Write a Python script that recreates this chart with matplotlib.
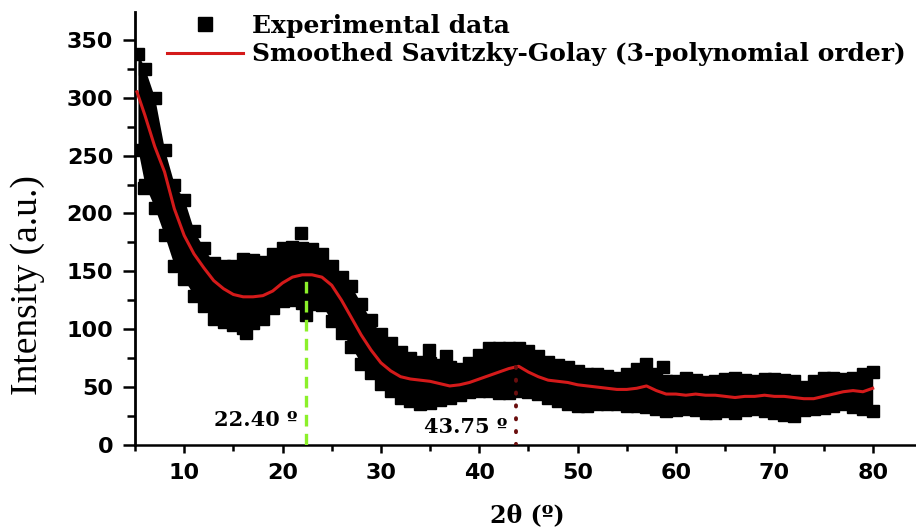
import numpy as np
import matplotlib
matplotlib.use("Agg")
import matplotlib.pyplot as plt
from matplotlib.ticker import MultipleLocator
from matplotlib.font_manager import FontProperties

two_theta = [5.3, 6, 7, 8, 9, 10, 11, 12, 13, 14, 15, 16, 17, 18, 19, 20,
             21, 22, 23, 24, 25, 26, 27, 28, 29, 30, 31, 32, 33, 34, 35, 36,
             37, 38, 39, 40, 41, 42, 43, 44, 45, 46, 47, 48, 49, 50, 51, 52,
             53, 54, 55, 56, 57, 58, 59, 60, 61, 62, 63, 64, 65, 66, 67, 68,
             69, 70, 71, 72, 73, 74, 75, 76, 77, 78, 79, 80]

# upper and lower experimental points of the noisy band
exp_upper = [338, 325, 300, 255, 225, 212, 185, 170, 157, 155, 155, 161, 160, 158,
             165, 170, 171, 170, 169, 165, 155, 145, 137, 122, 108, 96, 88, 80,
             75, 72, 71, 69, 67, 66, 71, 78, 84, 84, 84, 84, 81, 77, 72, 69,
             67, 64, 61, 61, 60, 58, 61, 66, 70, 61, 55, 55, 58, 56, 54, 55,
             57, 58, 56, 55, 57, 57, 56, 55, 50, 55, 58, 58, 57, 58, 61, 63]
exp_lower = [255, 225, 205, 181, 155, 143, 129, 120, 109, 106, 104, 101, 105, 109,
             118, 124, 125, 123, 122, 121, 107, 97, 85, 70, 62, 53, 47, 41,
             38, 35, 36, 39, 41, 43, 46, 47, 47, 45, 45, 47, 46, 44, 41, 38,
             35, 34, 34, 35, 35, 35, 34, 34, 33, 31, 29, 30, 31, 30, 28, 28,
             29, 28, 30, 31, 29, 28, 26, 25, 30, 31, 32, 34, 35, 33, 31, 29]

# isolated points standing out of the band
outlier_x = [21.9, 22.4, 16.3, 34.9, 36.6, 58.7, 5.9]
outlier_y = [183, 112, 97, 82, 77, 67, 222]

# Savitzky-Golay smoothed curve
smooth_x = [5.2, 6, 7, 8, 9, 10, 11, 12, 13, 14, 15, 16, 17, 18, 19, 20,
            21, 22, 23, 24, 25, 26, 27, 28, 29, 30, 31, 32, 33, 34, 35, 36,
            37, 38, 39, 40, 41, 42, 43, 44, 45, 46, 47, 48, 49, 50, 51, 52,
            53, 54, 55, 56, 57, 58, 59, 60, 61, 62, 63, 64, 65, 66, 67, 68,
            69, 70, 71, 72, 73, 74, 75, 76, 77, 78, 79, 80]
smooth_y = [305, 285, 258, 236, 204, 181, 165, 153, 142, 135, 130, 128, 128, 129,
            133, 140, 145, 147, 147, 145, 138, 125, 110, 95, 82, 71, 64, 59,
            57, 56, 55, 53, 51, 52, 54, 57, 60, 63, 66, 68, 63, 59, 56, 55,
            54, 52, 51, 50, 49, 48, 48, 49, 51, 47, 44, 44, 43, 44, 43, 43,
            42, 41, 42, 42, 43, 42, 42, 41, 40, 40, 42, 44, 46, 47, 46, 49]

# marked peaks
peak_pos = [22.40, 43.75]
peak_top = [147, 70]
peak_text = ["22.40 º", "43.75 º"]

fig = plt.figure(figsize=(9.16, 5.30), dpi=100)
ax = fig.add_axes([135 / 916, 1 - 445 / 530, 1 - 135 / 916, 433 / 530])

ax.fill_between(two_theta, exp_lower, exp_upper, color="black", lw=0, zorder=2)
h_exp, = ax.plot(two_theta, exp_upper, "s", color="black", ms=8, zorder=2,
                 label="Experimental data")
ax.plot(two_theta, exp_lower, "s", color="black", ms=8, zorder=2)
ax.plot(outlier_x, outlier_y, "s", color="black", ms=8, zorder=2)
h_sm, = ax.plot(smooth_x, smooth_y, color="#d41a1a", lw=2.2, zorder=3,
                label="Smoothed Savitzky-Golay (3-polynomial order)")

ax.plot([peak_pos[0]] * 2, [0, peak_top[0]], color="#8cf02a", lw=2.4,
        ls=(0, (3.5, 2.2)), zorder=4)
ax.plot([peak_pos[1]] * 2, [0, peak_top[1]], color="#6a0e0e", lw=2.8,
        ls=(0, (0.3, 3.0)), dash_capstyle="round", zorder=4)

serif_b = dict(family="DejaVu Serif", weight="bold")
ax.text(21.5, 16.5, peak_text[0], ha="right", va="baseline", size=15, **serif_b)
ax.text(42.9, 10, peak_text[1], ha="right", va="baseline", size=15, **serif_b)

ax.set_xlim(5, 84.4)
ax.set_ylim(0, 374)
ax.spines["top"].set_visible(False)
ax.spines["right"].set_visible(False)
ax.spines["left"].set_linewidth(2.0)
ax.spines["bottom"].set_linewidth(1.8)

ax.xaxis.set_major_locator(MultipleLocator(10))
ax.xaxis.set_minor_locator(MultipleLocator(5))
ax.yaxis.set_major_locator(MultipleLocator(50))
ax.yaxis.set_minor_locator(MultipleLocator(25))
ax.tick_params(axis="x", which="major", length=5.8, width=1.8, pad=7)
ax.tick_params(axis="x", which="minor", length=4.3, width=1.8)
ax.tick_params(axis="y", which="major", length=8.6, width=1.8, pad=7)
ax.tick_params(axis="y", which="minor", length=5.8, width=1.8)
for lab in ax.get_xticklabels() + ax.get_yticklabels():
    lab.set_fontfamily("DejaVu Sans")
    lab.set_fontweight("bold")
    lab.set_fontsize(16)

fig.text(527 / 916, 1 - 522 / 530, "2θ (º)", ha="center", va="baseline",
         size=17, **serif_b)
fig.text(28 / 916, 1 - 285 / 530, "Intensity (a.u.)", rotation=90,
         ha="center", va="center", family="Liberation Serif", size=27)

ax.legend(handles=[h_exp, h_sm], loc="upper left",
          bbox_to_anchor=(167 / 916, 1 - 14 / 530), bbox_transform=fig.transFigure,
          frameon=False, prop=FontProperties(family="DejaVu Serif", weight="bold", size=18),
          handlelength=3.05, handletextpad=0.35, borderaxespad=0, borderpad=0,
          labelspacing=0.18, markerscale=1.2)

fig.savefig("out.png", dpi=100)
